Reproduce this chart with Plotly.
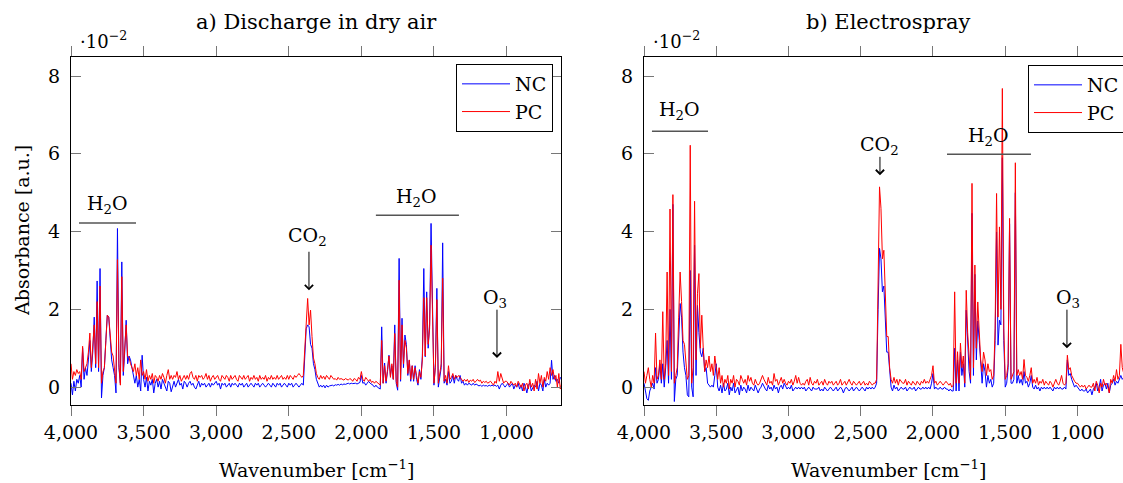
import plotly.graph_objects as go

# ---------------- data (absorbance in units of 1e-2) ----------------
wavenumber = list(range(4000, 619, -10))  # 4000 ... 620 cm^-1

a_nc = [
    0.10, -0.20, 0.15, -0.10, 0.20, 0.10, 0.30, 0.00, 1.00, 0.20,
    0.50, 0.30, 0.70, 1.20, 0.40, 0.90, 1.80, 0.50, 2.73, 0.40,
    3.05, -0.28, 0.30, 0.50, 1.20, 1.85, 1.80, 1.20, 0.70, 0.50,
    0.30, -0.15, 4.08, 0.50, 0.10, 3.22, 0.30, 0.90, 1.72, 0.60,
    0.80, 0.70, 0.50, 0.40, 0.10, 0.30, 0.00, 0.20, -0.10, 0.82,
    0.20, 0.00, 0.25, -0.10, 0.15, 0.05, 0.20, -0.15, 0.10, 0.20,
    0.00, 0.15, -0.05, 0.20, 0.10, 0.05, -0.10, 0.15, 0.10, -0.12,
    0.05, 0.15, 0.00, 0.10, 0.20, 0.05, 0.10, -0.05, 0.15, 0.10,
    0.00, 0.10, 0.15, 0.05, 0.10, 0.00, -0.05, 0.05, 0.15, 0.00,
    0.10, 0.05, 0.10, 0.00, 0.05, 0.10, 0.00, 0.10, 0.05, 0.10,
    0.15, 0.05, 0.10, -0.05, 0.10, 0.05, 0.10, 0.00, 0.05, 0.10,
    0.00, 0.10, 0.05, 0.10, 0.05, 0.00, 0.10, 0.05, 0.10, 0.00,
    0.05, 0.10, 0.00, 0.05, 0.10, 0.05, 0.00, 0.10, 0.05, 0.10,
    0.00, 0.05, 0.10, 0.05, 0.00, 0.05, 0.10, 0.05, 0.00, 0.10,
    0.05, 0.00, 0.10, 0.05, 0.10, 0.00, 0.05, 0.10, 0.05, 0.00,
    0.10, 0.05, 0.10, 0.00, 0.05, 0.10, 0.05, 0.00, 0.05, 0.10,
    0.05, 0.70, 1.50, 1.60, 1.55, 1.10, 1.00, 0.60, 0.45, 0.20,
    0.10, 0.00, 0.05, 0.00, 0.05, -0.02, 0.05, 0.00, 0.03, 0.05,
    0.05, 0.03, 0.06, 0.05, 0.07, 0.05, 0.08, 0.06, 0.08, 0.07,
    0.08, 0.10, 0.08, 0.10, 0.09, 0.10, 0.10, 0.08, 0.10, 0.12,
    0.30, 0.10, 0.12, 0.05, 0.10, 0.15, 0.10, 0.08, 0.05, 0.00,
    0.05, 0.00, -0.02, -0.05, 1.55, 0.10, 0.62, 0.10, 0.40, 0.82,
    0.30, 0.55, 0.20, 1.60, 0.10, -0.08, 3.31, 0.15, 1.77, 0.50,
    1.34, 1.10, 0.30, 0.69, 0.15, 0.55, 0.15, 0.55, 0.20, 0.05,
    0.45, 0.20, 0.80, 3.05, 0.78, 2.45, 1.00, 1.60, 4.21, 1.64,
    0.05, 0.60, 2.54, 0.00, 0.30, 0.50, 3.71, 0.10, 0.20, 0.05,
    0.40, 0.10, 0.15, 0.30, 0.10, 0.30, 0.20, 0.15, 0.30, 0.10,
    0.15, 0.05, 0.10, 0.05, 0.10, 0.08, 0.05, 0.10, 0.05, 0.08,
    0.05, 0.03, 0.05, 0.02, 0.05, 0.03, 0.04, 0.02, 0.05, 0.03,
    0.05, 0.03, 0.05, 0.02, 0.05, -0.05, 0.05, 0.10, 0.05, 0.00,
    0.05, 0.10, 0.00, 0.05, 0.10, -0.05, 0.05, 0.00, 0.10, -0.05,
    0.05, -0.10, 0.10, 0.00, -0.15, 0.05, 0.10, -0.10, 0.00, 0.05,
    0.00, 0.15, -0.10, 0.10, 0.05, -0.10, 0.20, 0.00, 0.10, 0.05,
    0.10, 0.69, 0.20, 0.30, 0.15, 0.20, 0.10, 0.25, 0.20,
]

a_pc = [
    0.60, 0.20, 0.40, 0.30, 0.45, 0.35, 0.40, 0.20, 1.05, 0.40,
    0.50, 0.60, 0.90, 1.39, 0.50, 1.00, 1.60, 0.60, 2.20, 0.50,
    2.60, 0.10, 0.40, 0.50, 1.30, 1.85, 1.80, 1.30, 0.90, 0.80,
    0.50, 0.10, 3.28, 0.60, 0.05, 2.84, 0.40, 1.00, 1.60, 0.80,
    0.75, 0.60, 0.50, 0.40, 0.60, 0.30, 0.50, 0.20, 0.70, 0.30,
    0.40, 0.20, 0.45, 0.15, 0.30, 0.20, 0.35, 0.10, 0.30, 0.25,
    0.15, 0.30, 0.20, 0.35, 0.25, 0.10, 0.30, 0.45, 0.20, 0.30,
    0.20, 0.30, 0.25, 0.40, 0.20, 0.30, 0.15, 0.25, 0.30, 0.20,
    0.30, 0.20, 0.35, 0.40, 0.25, 0.20, 0.30, 0.15, 0.30, 0.25,
    0.30, 0.20, 0.25, 0.35, 0.20, 0.30, 0.15, 0.25, 0.30, 0.20,
    0.25, 0.30, 0.20, 0.15, 0.30, 0.25, 0.20, 0.30, 0.25, 0.15,
    0.30, 0.20, 0.25, 0.30, 0.20, 0.15, 0.30, 0.25, 0.20, 0.30,
    0.20, 0.25, 0.30, 0.15, 0.25, 0.20, 0.30, 0.20, 0.25, 0.15,
    0.30, 0.20, 0.25, 0.20, 0.30, 0.15, 0.25, 0.20, 0.30, 0.20,
    0.25, 0.20, 0.30, 0.20, 0.25, 0.30, 0.20, 0.25, 0.20, 0.30,
    0.20, 0.30, 0.25, 0.20, 0.30, 0.25, 0.30, 0.35, 0.30, 0.25,
    0.30, 1.00, 1.90, 2.28, 1.60, 1.98, 1.30, 0.75, 0.60, 0.35,
    0.25, 0.20, 0.30, 0.22, 0.28, 0.20, 0.30, 0.25, 0.20, 0.30,
    0.25, 0.20, 0.22, 0.18, 0.25, 0.20, 0.22, 0.20, 0.18, 0.22,
    0.20, 0.18, 0.22, 0.20, 0.15, 0.22, 0.20, 0.15, 0.25, 0.20,
    0.40, 0.20, 0.15, 0.25, 0.20, 0.15, 0.20, 0.12, 0.15, 0.10,
    0.15, 0.12, 0.10, 0.05, 1.20, 0.10, 0.55, 0.15, 0.45, 0.80,
    0.25, 0.60, 0.20, 1.38, 0.15, 0.00, 2.75, 0.20, 1.60, 0.60,
    1.20, 1.00, 0.35, 0.70, 0.20, 0.55, 0.20, 0.50, 0.30, 0.10,
    0.40, 0.25, 0.70, 2.30, 0.80, 2.30, 1.10, 1.50, 3.65, 1.60,
    0.10, 0.50, 2.25, 0.10, 0.40, 0.60, 2.80, 0.15, 0.30, 0.10,
    0.55, 0.20, 0.25, 0.35, 0.20, 0.30, 0.25, 0.30, 0.25, 0.20,
    0.15, 0.20, 0.15, 0.20, 0.12, 0.18, 0.15, 0.20, 0.12, 0.15,
    0.20, 0.15, 0.18, 0.10, 0.15, 0.12, 0.15, 0.10, 0.12, 0.15,
    0.10, 0.05, 0.15, 0.10, 0.40, 0.15, 0.35, 0.20, 0.10, 0.15,
    0.15, 0.10, 0.05, 0.15, 0.10, 0.05, 0.10, 0.00, 0.15, 0.05,
    0.00, 0.10, -0.10, 0.05, 0.10, -0.05, 0.20, 0.00, 0.10, -0.10,
    0.20, -0.05, 0.35, 0.10, 0.30, 0.00, 0.25, 0.15, 0.40, 0.20,
    0.50, 0.30, 0.45, 0.20, 0.30, 0.00, 0.35, -0.05, 0.10,
]

b_nc = [
    0.10, -0.10, -0.30, -0.34, -0.10, 0.00, 0.10, -0.05, 0.50, 0.10,
    0.20, 0.60, 0.10, 0.60, 0.00, 0.50, 1.20, 0.10, 2.00, 0.20,
    4.70, -0.37, 0.20, 0.30, 1.20, 2.15, 1.80, 0.90, 0.50, 0.30,
    -0.20, -0.25, 3.00, 0.00, -0.25, 3.65, 0.30, 2.10, 1.40, 0.90,
    0.78, 1.00, 0.40, 0.50, 0.10, 0.05, 0.00, 0.05, 0.00, 0.30,
    0.60, 0.00, -0.10, 0.05, -0.15, 0.10, -0.10, -0.05, 0.10, -0.20,
    0.00, -0.10, 0.10, -0.15, -0.05, 0.00, -0.20, 0.05, -0.10, 0.00,
    -0.05, -0.15, 0.05, -0.10, 0.00, -0.05, -0.10, 0.05, -0.05, -0.15,
    -0.05, 0.00, 0.10, 0.00, -0.05, -0.10, 0.05, -0.05, 0.00, -0.10,
    0.05, -0.05, 0.00, -0.15, 0.00, 0.05, -0.05, 0.10, 0.00, -0.05,
    0.00, -0.05, 0.05, -0.10, -0.05, 0.00, -0.05, 0.00, -0.05, 0.00,
    -0.05, 0.00, -0.10, -0.05, 0.00, -0.05, -0.10, 0.00, -0.05, -0.05,
    -0.05, 0.00, -0.10, -0.05, -0.10, 0.00, -0.05, -0.10, -0.05, 0.00,
    -0.05, -0.10, -0.05, 0.00, -0.10, -0.05, 0.00, -0.05, -0.15, -0.05,
    0.00, -0.05, -0.10, -0.05, 0.00, -0.10, -0.05, 0.00, -0.05, -0.10,
    -0.05, 0.00, -0.05, -0.10, 0.00, -0.05, 0.00, -0.05, 0.00, -0.05,
    0.00, 0.10, 2.00, 3.57, 3.30, 2.45, 2.60, 1.80, 0.90, 0.90,
    0.30, 0.00, -0.10, 0.05, -0.05, 0.00, -0.10, -0.05, 0.00, -0.05,
    -0.05, 0.00, -0.10, -0.05, 0.00, -0.05, -0.05, 0.00, -0.10, -0.05,
    0.00, -0.05, -0.05, 0.00, -0.05, 0.00, -0.05, 0.00, -0.05, 0.10,
    0.35, -0.05, 0.00, -0.05, -0.05, 0.00, -0.05, -0.05, 0.00, -0.05,
    -0.05, -0.10, -0.05, -0.10, -0.10, 1.00, -0.10, 0.70, -0.10, 0.90,
    0.30, 0.60, 0.00, 1.98, 1.20, 0.40, 0.10, 4.47, 0.30, 2.90,
    0.70, 1.70, 1.20, 0.50, 0.10, 0.60, 0.40, 0.00, 0.30, 0.10,
    0.20, 0.00, 0.10, 1.20, 3.99, 1.08, 1.72, 1.60, 5.90, 1.20,
    0.00, 0.10, 0.50, 4.20, 0.10, 0.10, 0.20, 5.00, 0.10, 0.30,
    0.10, 0.20, 0.05, 0.40, 0.10, 0.15, 0.00, 0.10, 0.30, 0.00,
    -0.05, 0.05, -0.05, 0.00, -0.10, 0.00, -0.05, 0.00, -0.05, 0.00,
    -0.05, 0.00, -0.05, -0.10, 0.00, -0.05, 0.00, -0.05, 0.00, -0.05,
    -0.05, 0.00, -0.05, 0.70, 0.30, 0.35, 0.20, 0.10, 0.00, 0.05,
    0.00, -0.05, -0.10, -0.05, -0.10, -0.10, -0.05, -0.15, -0.10, -0.05,
    -0.20, -0.05, 0.00, 0.10, -0.10, 0.00, 0.20, -0.10, 0.05, 0.10,
    -0.05, 0.10, -0.15, 0.05, 0.10, 0.20, 0.05, 0.15, 0.10, 0.20,
    0.30, 0.20, 0.25, 0.20, 0.15, 0.20, 0.10, 0.15, 0.10,
]

b_pc = [
    0.40, 0.10, 0.30, 0.50, 0.20, 0.00, 0.30, 0.10, 1.39, 0.20,
    0.30, 0.70, 0.20, 1.94, 0.20, 0.60, 2.96, 0.30, 4.58, 0.40,
    4.95, 0.10, 0.30, 0.50, 1.80, 2.96, 2.20, 1.20, 1.10, 0.70,
    0.20, 0.30, 6.22, 0.10, 0.50, 4.78, 0.70, 2.40, 2.92, 1.00,
    1.85, 1.00, 0.40, 0.70, 0.50, 0.80, 0.40, 0.60, 0.30, 0.80,
    0.40, 0.20, 0.50, 0.10, 0.30, 0.00, 0.20, 0.10, 0.30, -0.05,
    0.20, 0.10, 0.30, 0.00, 0.20, 0.15, 0.05, 0.30, 0.20, 0.10,
    0.20, 0.05, 0.30, 0.15, 0.25, 0.10, 0.05, 0.20, 0.10, 0.05,
    0.10, 0.20, 0.30, 0.20, 0.10, 0.05, 0.25, 0.10, 0.15, 0.05,
    0.35, 0.15, 0.20, 0.05, 0.15, 0.25, 0.10, 0.20, 0.10, 0.05,
    0.15, 0.10, 0.20, 0.05, 0.15, 0.30, 0.10, 0.25, 0.10, 0.05,
    0.10, 0.05, 0.15, 0.20, 0.05, 0.25, 0.10, 0.05, 0.15, 0.10,
    0.20, 0.05, 0.10, 0.15, 0.05, 0.20, 0.10, 0.05, 0.15, 0.10,
    0.15, 0.05, 0.10, 0.15, 0.05, 0.10, 0.20, 0.05, 0.10, 0.15,
    0.05, 0.15, 0.20, 0.10, 0.05, 0.15, 0.10, 0.05, 0.10, 0.15,
    0.05, 0.10, 0.15, 0.05, 0.10, 0.05, 0.15, 0.10, 0.05, 0.10,
    0.10, 0.20, 2.80, 5.15, 4.60, 3.30, 3.52, 2.60, 1.30, 1.30,
    0.50, 0.20, 0.10, 0.25, 0.10, 0.20, 0.05, 0.20, 0.15, 0.10,
    0.10, 0.20, 0.05, 0.15, 0.10, 0.05, 0.15, 0.10, 0.05, 0.15,
    0.10, 0.05, 0.15, 0.10, 0.20, 0.10, 0.15, 0.10, 0.20, 0.30,
    0.55, 0.10, 0.15, 0.05, 0.10, 0.15, 0.10, 0.05, 0.10, 0.15,
    0.10, 0.05, 0.10, 0.00, 0.05, 2.45, 0.10, 0.91, 0.10, 1.13,
    0.50, 0.80, 0.10, 2.49, 1.40, 0.60, 0.20, 5.24, 0.50, 3.14,
    1.00, 2.19, 1.50, 0.70, 0.40, 0.90, 0.70, 0.30, 0.60, 0.40,
    0.45, 0.20, 0.30, 1.50, 4.98, 1.80, 4.12, 2.00, 7.68, 1.50,
    0.20, 0.30, 0.60, 4.34, 0.20, 0.30, 0.40, 5.77, 0.30, 0.45,
    0.30, 0.40, 0.20, 0.71, 0.30, 0.25, 0.15, 0.30, 0.50, 0.10,
    0.20, 0.10, 0.25, 0.05, 0.15, 0.10, 0.20, 0.05, 0.15, 0.10,
    0.05, 0.15, 0.10, 0.00, 0.10, 0.20, 0.10, 0.05, 0.15, 0.30,
    0.10, 0.05, 0.10, 0.82, 0.45, 0.50, 0.30, 0.20, 0.15, 0.10,
    0.10, 0.05, 0.00, 0.05, 0.00, 0.05, -0.05, 0.00, 0.05, 0.00,
    0.00, 0.10, -0.10, 0.15, 0.05, -0.15, 0.10, 0.00, 0.20, 0.05,
    0.10, 0.00, -0.15, 0.20, 0.10, 0.30, 0.15, 0.45, 0.20, 0.30,
    1.10, 0.50, 0.30, 0.20, 0.25, 0.20, 0.15, 0.20, 0.10,
]

x_ticks = [4000, 3500, 3000, 2500, 2000, 1500, 1000]
y_ticks = [0, 2, 4, 6, 8]
panel_titles = ["a) Discharge in dry air", "b) Electrospray"]

for name, arr in [("a_nc", a_nc), ("a_pc", a_pc), ("b_nc", b_nc), ("b_pc", b_pc)]:
    assert len(arr) == len(wavenumber), (name, len(arr), len(wavenumber))

# ---------------- figure ----------------
W, H = 1123, 483
FONT = "DejaVu Serif"
FS = 19
BLUE, RED = "#0000ff", "#ff0000"

fig = go.Figure()
fig.add_trace(go.Scatter(x=wavenumber, y=a_nc, name="NC", mode="lines",
                         line=dict(color=BLUE, width=1), xaxis="x", yaxis="y", legend="legend"))
fig.add_trace(go.Scatter(x=wavenumber, y=a_pc, name="PC", mode="lines",
                         line=dict(color=RED, width=1), xaxis="x", yaxis="y", legend="legend"))
fig.add_trace(go.Scatter(x=wavenumber, y=b_nc, name="NC", mode="lines",
                         line=dict(color=BLUE, width=1), xaxis="x2", yaxis="y2", legend="legend2"))
fig.add_trace(go.Scatter(x=wavenumber, y=b_pc, name="PC", mode="lines",
                         line=dict(color=RED, width=1), xaxis="x2", yaxis="y2", legend="legend2"))

ydom = [1 - 405 / H, 1 - 57 / H]
tickfont = dict(family=FONT, size=FS, color="black")

xcommon = dict(showline=True, linecolor="black", linewidth=1, showgrid=False, zeroline=False,
               ticks="outside", ticklen=10, tickwidth=1, tickcolor="#777777",
               tickvals=x_ticks, tickformat=",d", mirror="ticks", tickfont=tickfont)
ycommon = dict(showline=True, linecolor="black", linewidth=1, showgrid=False, zeroline=False,
               ticks="inside", ticklen=10, tickwidth=1, tickcolor="#777777",
               tickvals=y_ticks, range=[-0.46, 8.49], tickfont=tickfont, ticklabelstandoff=6)

legend_common = dict(bordercolor="black", borderwidth=1, bgcolor="white",
                     font=dict(family=FONT, size=FS, color="black"), tracegroupgap=0,
                     yanchor="top", itemwidth=48)

fig.update_layout(
    width=W, height=H,
    margin=dict(l=0, r=0, t=0, b=0, autoexpand=False),
    paper_bgcolor="white", plot_bgcolor="white",
    font=dict(family=FONT, size=FS, color="black"),
    xaxis=dict(domain=[71 / W, 561 / W], range=[4000, 625], anchor="y", **xcommon),
    yaxis=dict(domain=ydom, anchor="x", mirror="ticks", **ycommon),
    xaxis2=dict(domain=[644 / W, 1.0], range=[4000, 685], anchor="y2", **xcommon),
    yaxis2=dict(domain=ydom, anchor="x2", mirror=False, **ycommon),
    legend=dict(x=553 / W, xanchor="right", y=1 - 64 / H, **legend_common),
    legend2=dict(x=1028 / W, xanchor="left", y=1 - 65 / H, **legend_common),
    showlegend=True,
)

ann = []
lab = dict(family=FONT, size=FS, color="black")
# panel titles
for xc, t in zip((316, 888), panel_titles):
    ann.append(dict(text=t, x=xc / W, y=1 - 22 / H, xref="paper", yref="paper",
                    showarrow=False, xanchor="center", yanchor="middle",
                    font=dict(family=FONT, size=21, color="black")))
# multipliers
for xp in (78, 651):
    ann.append(dict(text="·10<sup>−2</sup>", x=xp / W, y=1 - 40 / H, xref="paper", yref="paper",
                    showarrow=False, xanchor="left", yanchor="middle",
                    font=dict(family=FONT, size=FS - 1, color="black")))
# axis titles
for xc in (316, 888):
    ann.append(dict(text="Wavenumber [cm<sup>−1</sup>]", x=xc / W, y=1 - 469 / H, xref="paper",
                    yref="paper", showarrow=False, xanchor="center", yanchor="middle", font=lab))
ann.append(dict(text="Absorbance [a.u.]", x=22 / W, y=1 - 231 / H, xref="paper", yref="paper",
                showarrow=False, textangle=-90, xanchor="center", yanchor="middle", font=lab))

# species labels
labels = [
    ("x", "y", "H<sub>2</sub>O", 3752, 4.70),
    ("x", "y", "H<sub>2</sub>O", 1617, 4.88),
    ("x", "y", "CO<sub>2</sub>", 2368, 3.88),
    ("x", "y", "O<sub>3</sub>", 1080, 2.29),
    ("x2", "y2", "H<sub>2</sub>O", 3751, 7.12),
    ("x2", "y2", "H<sub>2</sub>O", 1619, 6.45),
    ("x2", "y2", "CO<sub>2</sub>", 2367, 6.22),
    ("x2", "y2", "O<sub>3</sub>", 1066, 2.29),
]
for xr, yr, t, xv, yv in labels:
    ann.append(dict(text=t, x=xv, y=yv, xref=xr, yref=yr, showarrow=False,
                    xanchor="center", yanchor="middle", font=lab))

arrows = [
    ("x", "y", 2361, 3.52, 2.49),
    ("x", "y", 1066, 2.03, 0.75),
    ("x2", "y2", 2367, 5.96, 5.45),
    ("x2", "y2", 1073, 2.03, 1.00),
]
for xr, yr, xv, ytop, ybot in arrows:
    ann.append(dict(text="", x=xv, y=ybot, ax=xv, ay=ytop, xref=xr, yref=yr, axref=xr, ayref=yr,
                    showarrow=True, arrowhead=4, arrowsize=1.6, arrowwidth=1, arrowcolor="black"))
fig.update_layout(annotations=ann)

# bracket lines under H2O labels
brackets = [
    ("x", "y", 3945, 3552, 4.22),
    ("x", "y", 1900, 1328, 4.42),
    ("x2", "y2", 3945, 3557, 6.58),
    ("x2", "y2", 1903, 1322, 5.99),
]
for xr, yr, x0, x1, yv in brackets:
    fig.add_shape(type="line", xref=xr, yref=yr, x0=x0, x1=x1, y0=yv, y1=yv,
                  line=dict(color="#555555", width=1.6))

fig.write_html("out.html")
